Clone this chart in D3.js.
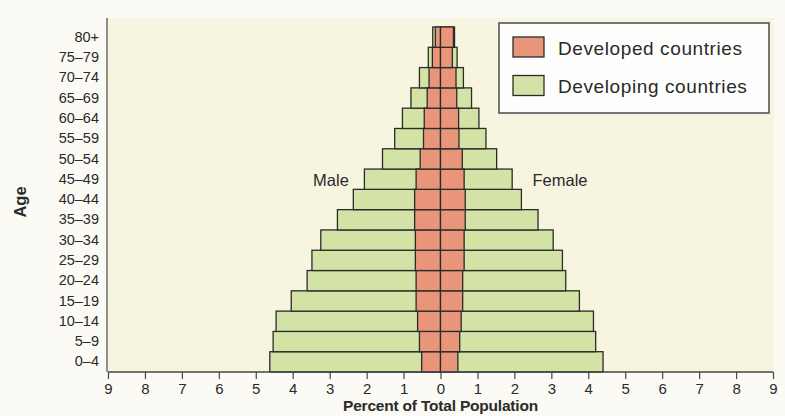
<!DOCTYPE html>
<html>
<head>
<meta charset="utf-8">
<script src="https://cdn.jsdelivr.net/npm/d3@7/dist/d3.min.js"></script>
<style>
  html, body { margin: 0; padding: 0; background: #fbfaf4; }
  svg { display: block; }
  text { font-family: "Liberation Sans", Arial, sans-serif; fill: #2a2a2a; }
</style>
</head>
<body>
<svg id="chart" width="785" height="416"></svg>
<script>
// ---- Data ----
const ageGroups = ["0–4","5–9","10–14","15–19","20–24","25–29","30–34","35–39","40–44","45–49","50–54","55–59","60–64","65–69","70–74","75–79","80+"];
const maleDeveloping   = [4.62,4.53,4.45,4.04,3.61,3.48,3.24,2.79,2.36,2.06,1.57,1.24,1.03,0.80,0.57,0.33,0.21];
const femaleDeveloping = [4.40,4.20,4.14,3.76,3.39,3.30,3.05,2.64,2.19,1.94,1.52,1.23,1.04,0.84,0.62,0.45,0.38];
const maleDeveloped    = [0.51,0.57,0.62,0.66,0.66,0.68,0.68,0.70,0.70,0.66,0.55,0.46,0.44,0.36,0.31,0.22,0.14];
const femaleDeveloped  = [0.47,0.52,0.56,0.60,0.60,0.64,0.64,0.67,0.67,0.64,0.59,0.50,0.49,0.44,0.42,0.32,0.35];
const xTicks = [-9,-8,-7,-6,-5,-4,-3,-2,-1,0,1,2,3,4,5,6,7,8,9];
const seriesNames = ["Developed countries","Developing countries"];
const colors = { developed: "#e8957a", developing: "#d3e3a5" };

// ---- Layout ----
const svg = d3.select("#chart");
const plot = { left: 108, right: 773, top: 18, bottom: 372 };
const barsTop = 27;

const x = d3.scaleLinear().domain([-9, 9]).range([plot.left, plot.right]);
const y = d3.scaleBand().domain(ageGroups).range([plot.bottom, barsTop]).padding(0);

// plot background
svg.append("rect")
  .attr("x", plot.left).attr("y", plot.top)
  .attr("width", plot.right - plot.left + 1).attr("height", plot.bottom - plot.top)
  .attr("fill", "#f7f5df");

const stroke = "#2b2b2b", sw = 1.3;
const rows = ageGroups.map((a, i) => ({
  age: a,
  mDev: maleDeveloping[i], fDev: femaleDeveloping[i],
  mDvd: maleDeveloped[i], fDvd: femaleDeveloped[i]
}));

const g = svg.append("g");
// developing (green)
g.selectAll("rect.md").data(rows).join("rect")
  .attr("x", d => x(-d.mDev)).attr("y", d => y(d.age))
  .attr("width", d => x(0) - x(-d.mDev)).attr("height", y.bandwidth())
  .attr("fill", colors.developing).attr("stroke", stroke).attr("stroke-width", sw);
g.selectAll("rect.fd").data(rows).join("rect")
  .attr("x", x(0)).attr("y", d => y(d.age))
  .attr("width", d => x(d.fDev) - x(0)).attr("height", y.bandwidth())
  .attr("fill", colors.developing).attr("stroke", stroke).attr("stroke-width", sw);
// developed (salmon)
g.selectAll("rect.mv").data(rows).join("rect")
  .attr("x", d => x(-d.mDvd)).attr("y", d => y(d.age))
  .attr("width", d => x(0) - x(-d.mDvd)).attr("height", y.bandwidth())
  .attr("fill", colors.developed).attr("stroke", stroke).attr("stroke-width", sw);
g.selectAll("rect.fv").data(rows).join("rect")
  .attr("x", x(0)).attr("y", d => y(d.age))
  .attr("width", d => x(d.fDvd) - x(0)).attr("height", y.bandwidth())
  .attr("fill", colors.developed).attr("stroke", stroke).attr("stroke-width", sw);

// x axis
const xAxis = d3.axisBottom(x).tickValues(xTicks).tickFormat(d => Math.abs(d)).tickSize(7).tickPadding(4);
const xg = svg.append("g").attr("transform", `translate(0,${plot.bottom})`).call(xAxis);
xg.select(".domain").attr("stroke", "#444").attr("stroke-width", 1.3)
  .attr("d", `M${plot.left},0H${plot.right}`);
xg.selectAll(".tick line").attr("stroke", "#444").attr("stroke-width", 1.2);
xg.selectAll(".tick text").attr("font-size", 15).attr("fill", "#2a2a2a")
  .attr("font-family", "Liberation Sans, Arial, sans-serif");

// y axis
const yAxis = d3.axisLeft(y).tickSize(0).tickPadding(8);
const yg = svg.append("g").attr("transform", `translate(${plot.left - 1},0)`).call(yAxis);
yg.select(".domain").attr("stroke", "#555").attr("stroke-width", 1.3)
  .attr("d", `M0,${plot.top}V${plot.bottom}`);
yg.selectAll(".tick text").attr("font-size", 14.5).attr("fill", "#2a2a2a")
  .attr("font-family", "Liberation Sans, Arial, sans-serif");

// axis titles
svg.append("text").attr("x", x(0)).attr("y", 411).attr("text-anchor", "middle")
  .attr("font-size", 15.5).attr("font-weight", "bold").attr("letter-spacing", -0.2)
  .text("Percent of Total Population");
svg.append("text").attr("transform", "translate(26,202) rotate(-90)").attr("text-anchor", "middle")
  .attr("font-size", 16.5).attr("font-weight", "bold").text("Age");

// Male / Female labels
svg.append("text").attr("x", 331).attr("y", 186).attr("text-anchor", "middle")
  .attr("font-size", 16.5).text("Male");
svg.append("text").attr("x", 560).attr("y", 186).attr("text-anchor", "middle")
  .attr("font-size", 16.5).text("Female");

// Legend
const lg = svg.append("g");
lg.append("rect").attr("x", 499).attr("y", 23).attr("width", 270).attr("height", 90)
  .attr("fill", "#fefefc").attr("stroke", "#555").attr("stroke-width", 1.6);
const legendItems = [
  { name: seriesNames[0], color: colors.developed },
  { name: seriesNames[1], color: colors.developing }
];
lg.selectAll("rect.sw").data(legendItems).join("rect")
  .attr("x", 513).attr("y", (d, i) => 37 + i * 38.5)
  .attr("width", 31).attr("height", 20)
  .attr("fill", d => d.color).attr("stroke", stroke).attr("stroke-width", 1.3);
lg.selectAll("text.lt").data(legendItems).join("text")
  .attr("x", 558).attr("y", (d, i) => 54.5 + i * 38.5)
  .attr("font-size", 19).attr("letter-spacing", 0.6)
  .text(d => d.name);
</script>
</body>
</html>
